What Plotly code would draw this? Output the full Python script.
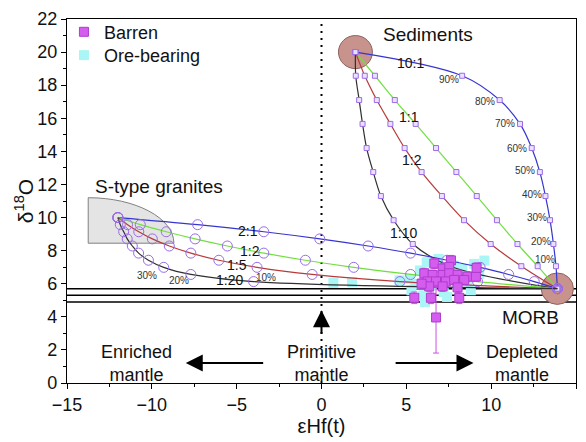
import plotly.graph_objects as go

FONT = "Liberation Sans, Arial, sans-serif"

# ---------------- data ----------------
# end-members
sed_end = [2.0, 20.0]          # sediments
mantle_end = [13.9, 5.7]       # MORB / depleted mantle
stype_end = [-12.0, 10.0]      # S-type granites

# sediment - mantle mixing curves (10% steps)
sed_mix_y = [20.0, 18.57, 17.1, 15.66, 14.2, 12.75, 11.3, 9.84, 8.4, 7.06, 5.7]
sed_10_1_x = [2.0, 8.29, 10.5, 11.7, 12.39, 12.87, 13.2, 13.47, 13.67, 13.82, 13.9]
sed_1_1_x = [2.0, 3.15, 4.32, 5.55, 6.75, 7.95, 9.15, 10.34, 11.55, 12.74, 13.9]
sed_1_2_x = [2.0, 2.55, 3.26, 4.06, 4.9, 5.9, 7.1, 8.4, 9.97, 11.78, 13.9]
sed_1_10_x = [2.0, 2.02, 2.22, 2.42, 2.66, 3.05, 3.5, 4.25, 5.38, 7.6, 13.9]

# S-type granite - mantle mixing curves (10% steps)
st_mix_y = [10.0, 9.57, 9.14, 8.71, 8.28, 7.85, 7.42, 6.99, 6.56, 6.13, 5.7]
st_2_1_x = [-12.0, -7.3, -3.4, -0.1, 2.75, 5.25, 7.4, 9.35, 11.03, 12.54, 13.9]
st_1_2_x = [-12.0, -10.68, -9.15, -7.45, -5.55, -3.4, -0.95, 1.9, 5.25, 9.2, 13.9]
st_1_5_x = [-12.0, -11.43, -10.77, -9.97, -8.97, -7.7, -6.05, -3.8, -0.55, 4.62, 13.9]
st_1_20_x = [-12.0, -11.86, -11.66, -11.45, -11.15, -10.78, -10.2, -9.3, -7.7, -4.0, 13.9]

# Barren samples
barren_x = [6.65, 7.63, 7.14, 7.53, 6.06, 6.55, 7.14, 7.53, 8.02, 8.6, 6.25, 6.75, 7.33,
            7.82, 8.41, 9.1, 6.35, 7.14, 8.02, 5.47, 6.45, 8.12, 6.75, 9.14, 5.9]
barren_y = [7.22, 7.41, 6.92, 7.02, 6.63, 6.53, 6.53, 6.63, 6.53, 6.43, 6.14, 6.14, 6.14,
            6.23, 6.23, 6.43, 5.84, 5.84, 5.78, 5.15, 5.15, 5.15, 3.96, 6.96, 6.0]
barren_err = [0.3, 0.3, 0.3, 0.3, 0.3, 0.3, 0.3, 0.3, 0.3, 0.3, 0.3, 0.3, 0.3,
              0.3, 0.3, 0.3, 0.3, 0.3, 0.3, 0.35, 0.35, 0.35, 2.15, 0.3, 0.3]

# Ore-bearing samples
ore_x = [0.7, 1.8, 4.6, 5.2, 5.5, 5.8, 6.0, 6.2, 6.5, 6.9, 7.0, 7.2, 7.5, 7.8, 8.0,
         8.3, 8.6, 9.0, 9.3, 9.6, 5.3, 8.8, 6.1, 7.4]
ore_y = [6.05, 6.1, 6.2, 6.3, 6.0, 6.8, 5.3, 7.3, 5.9, 7.5, 6.2, 5.5, 6.6, 7.1, 5.9,
         6.9, 6.2, 7.2, 6.6, 7.4, 5.6, 5.6, 4.9, 5.2]
ore_err = [0.25] * len(ore_x)

# MORB reference lines
morb_lines = [5.7, 5.3, 4.9]

# labels
pct_text = ["90%", "80%", "70%", "60%", "50%", "40%", "30%", "20%", "10%"]
pct_x = [7.49, 9.64, 10.8, 11.5, 12.0, 12.38, 12.69, 12.94, 13.17]
pct_y = [18.37, 17.0, 15.7, 14.2, 12.85, 11.38, 9.98, 8.54, 7.46]
low_pct_text = ["30%", "20%", "10%"]
low_pct_x = [-10.3, -8.4, -3.3]
low_pct_y = [6.5, 6.2, 6.4]

# ---------------- figure ----------------
BLUE = "#3535d0"
GREEN = "#70e040"
RED = "#b83a3a"
BLACK = "#303030"
PURPLE = "#9b6be8"

fig = go.Figure()

# ore-bearing (behind)
fig.add_trace(go.Scatter(
    x=ore_x, y=ore_y, mode="markers", name="Ore-bearing", legend="legend2",
    marker=dict(symbol="square", size=10, color="rgb(170,245,245)", line=dict(width=0)),
    error_y=dict(type="data", array=ore_err, color="rgb(170,245,245)", thickness=1, width=3),
))

sed_curves = [(sed_10_1_x, BLUE), (sed_1_1_x, GREEN), (sed_1_2_x, RED), (sed_1_10_x, BLACK)]
for xs, col in sed_curves:
    fig.add_trace(go.Scatter(
        x=xs, y=sed_mix_y, mode="lines+markers", showlegend=False, hoverinfo="skip",
        line=dict(color=col, width=1.2, shape="spline", smoothing=1.0),
        marker=dict(symbol="square", size=5, color="rgba(235,225,255,1)",
                    line=dict(color=PURPLE, width=1)),
    ))

st_curves = [(st_2_1_x, BLUE), (st_1_2_x, GREEN), (st_1_5_x, RED), (st_1_20_x, BLACK)]
for xs, col in st_curves:
    fig.add_trace(go.Scatter(
        x=xs, y=st_mix_y, mode="lines+markers", showlegend=False, hoverinfo="skip",
        line=dict(color=col, width=1.2, shape="spline", smoothing=1.0),
        marker=dict(symbol="circle-open", size=10, color=PURPLE, line=dict(width=1)),
    ))

# barren (front)
fig.add_trace(go.Scatter(
    x=barren_x, y=barren_y, mode="markers", name="Barren", legend="legend",
    marker=dict(symbol="square", size=9, color="rgb(212,92,238)",
                line=dict(color="rgb(175,60,205)", width=1)),
    error_y=dict(type="data", array=barren_err, color="rgb(205,80,230)", thickness=1, width=3),
))

shapes = []
# grey S-type field (quarter ellipse)
cx, cy, rx, ry, k = -13.75, 8.45, 5.05, 2.75, 0.5523
shapes.append(dict(
    type="path", xref="x", yref="y", layer="below",
    path=f"M {cx},{cy} L {cx},{cy+ry} C {cx+k*rx},{cy+ry} {cx+rx},{cy+k*ry} {cx+rx},{cy} Z",
    fillcolor="#e4e4e4", line=dict(color="#808080", width=1)))
# end-member circles
for (ex, ey), r in [(sed_end, 1.0), (mantle_end, 0.95)]:
    shapes.append(dict(type="circle", xref="x", yref="y", layer="below",
                       x0=ex - r, x1=ex + r, y0=ey - r, y1=ey + r,
                       fillcolor="#c8938d", line=dict(color="#8e615c", width=1)))
# MORB lines
for yv in morb_lines:
    shapes.append(dict(type="line", xref="paper", yref="y", layer="below",
                       x0=0, x1=1, y0=yv, y1=yv, line=dict(color="black", width=1.5)))
# dotted line at 0
shapes.append(dict(type="line", xref="x", yref="paper", layer="below",
                   x0=0, x1=0, y0=0, y1=1, line=dict(color="black", width=2, dash="2px,5px")))

ann = []
def txt(x, y, t, size=19, **kw):
    ann.append(dict(x=x, y=y, xref="x", yref="y", text=t, showarrow=False,
                    font=dict(family=FONT, size=size, color=kw.pop("color", "#111")), **kw))

txt(6.25, 21.05, "Sediments")
txt(-9.6, 11.9, "S-type granites")
txt(12.3, 3.95, "MORB")
txt(-10.9, 1.2, "Enriched<br>mantle", size=18)
txt(0.0, 1.2, "Primitive<br>mantle", size=18)
txt(11.8, 1.2, "Depleted<br>mantle", size=18)

for t, x, y in [("10:1", 5.26, 19.37), ("1:1", 5.16, 16.1), ("1:2", 5.35, 13.5), ("1:10", 4.86, 9.08),
                ("2:1", -4.33, 9.19), ("1:2", -4.24, 8.0), ("1:5", -5.0, 7.12), ("1:20", -5.4, 6.22)]:
    txt(x, y, t, size=14)

for t, x, y in zip(pct_text, pct_x, pct_y):
    txt(x, y, t, size=10, color="#333")
for t, x, y in zip(low_pct_text, low_pct_x, low_pct_y):
    txt(x, y, t, size=10, color="#333")

# arrows
for (x0, y0, x1, y1) in [(-3.35, 1.21, -8.0, 1.21), (4.28, 1.21, 8.96, 1.21), (0.0, 2.9, 0.0, 4.4)]:
    ann.append(dict(x=x1, y=y1, ax=x0, ay=y0, xref="x", yref="y", axref="x", ayref="y",
                    text="", showarrow=True, arrowhead=2, arrowsize=1.7, arrowwidth=2,
                    arrowcolor="black"))

# y-axis title
ann.append(dict(x=-0.084, y=0.5, xref="paper", yref="paper", text="δ<sup>18</sup>O",
                textangle=-90, showarrow=False, xanchor="center", yanchor="middle",
                font=dict(family=FONT, size=21, color="#111")))

leg_common = dict(xanchor="left", yanchor="middle", bgcolor="rgba(0,0,0,0)",
                  font=dict(family=FONT, size=18, color="#111"), itemwidth=30)

fig.update_layout(
    width=586, height=442,
    margin=dict(l=67, r=9, t=15, b=55),
    paper_bgcolor="white", plot_bgcolor="white",
    font=dict(family=FONT, size=18, color="#111"),
    shapes=shapes, annotations=ann,
    showlegend=True,
    legend=dict(x=-0.006, y=0.964, **leg_common),
    legend2=dict(x=-0.006, y=0.9, **leg_common),
    xaxis=dict(range=[-15, 15], dtick=5, tick0=-15, showgrid=False, zeroline=False,
               showline=True, linecolor="black", linewidth=1.2, mirror=True,
               ticks="outside", ticklen=5, tickcolor="black",
               minor=dict(dtick=2.5, ticks="outside", ticklen=3, tickcolor="black"),
               tickfont=dict(size=18),
               title=dict(text="εHf(t)", font=dict(size=20), standoff=4)),
    yaxis=dict(range=[0, 22], dtick=2, showgrid=False, zeroline=False,
               showline=True, linecolor="black", linewidth=1.2, mirror=True,
               ticks="outside", ticklen=5, tickcolor="black",
               minor=dict(dtick=1, ticks="outside", ticklen=3, tickcolor="black"),
               tickfont=dict(size=18)),
)

fig.write_html("out.html")
